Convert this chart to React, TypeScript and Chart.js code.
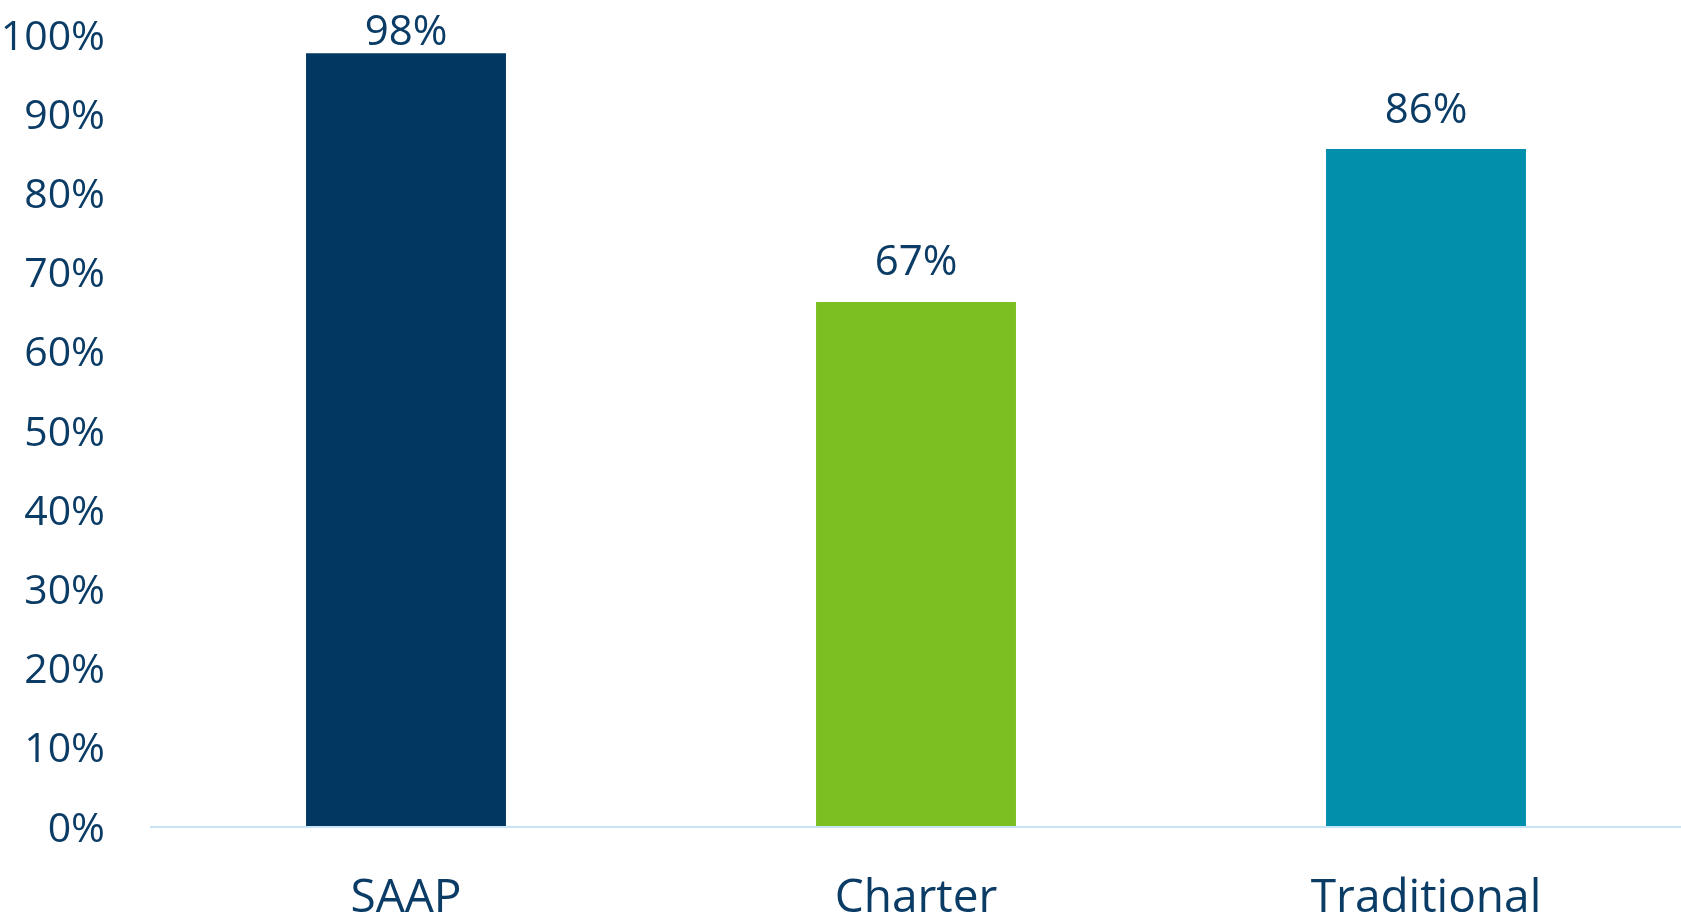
import React, { useEffect, useRef } from "react";
import { Chart, registerables } from "chart.js";

Chart.register(...registerables);

const categories = ["SAAP", "Charter", "Traditional"];
const values = [97.7, 66.3, 85.6];
const valueLabels = ["98%", "67%", "86%"];
const barColors = ["#023761", "#7BBF21", "#028FAB"];
const yTicks = [0, 10, 20, 30, 40, 50, 60, 70, 80, 90, 100];

const TEXT = "#0B3C66";
const FONT = "'Open Sans', sans-serif";

const valueLabelPlugin = {
  id: "valueLabels",
  afterDatasetsDraw(chart: any) {
    const ctx = chart.ctx;
    const meta = chart.getDatasetMeta(0);
    ctx.save();
    ctx.fillStyle = TEXT;
    ctx.font = `42px ${FONT}`;
    ctx.textAlign = "center";
    ctx.textBaseline = "alphabetic";
    meta.data.forEach((bar: any, i: number) => {
      const y = Math.max(bar.y - 26.5, 45);
      ctx.fillText(valueLabels[i], bar.x, y);
    });
    ctx.restore();
  },
};

export default function App() {
  const ref = useRef<HTMLCanvasElement | null>(null);
  useEffect(() => {
    if (!ref.current) return;
    const chart = new Chart(ref.current, {
      type: "bar",
      data: {
        labels: categories,
        datasets: [
          {
            data: values,
            backgroundColor: barColors,
            borderWidth: 0,
            categoryPercentage: 1,
            barPercentage: 0.392,
          },
        ],
      },
      options: {
        animation: false,
        responsive: true,
        maintainAspectRatio: false,
        layout: { padding: { top: 35, left: 0, right: 0, bottom: 0 } },
        plugins: {
          legend: { display: false },
          tooltip: { enabled: false },
          title: { display: false },
        },
        scales: {
          x: {
            grid: { display: false },
            border: { display: true, color: "#C7E4F8", width: 2, z: 1 },
            ticks: {
              color: TEXT,
              font: { family: FONT, size: 46 },
              padding: 36,
              maxRotation: 0,
            },
            afterFit(scale: any) {
              scale.height = 95;
              scale.paddingLeft = 0;
              scale.paddingRight = 0;
            },
          },
          y: {
            min: 0,
            max: 100,
            grid: { display: false },
            border: { display: false },
            afterBuildTicks(scale: any) {
              scale.ticks = yTicks.map((v) => ({ value: v }));
            },
            ticks: {
              color: TEXT,
              font: { family: FONT, size: 41 },
              padding: 38,
              labelOffset: 3,
              callback: (v: any) => `${v}%`,
            },
            afterFit(scale: any) {
              scale.width = 151;
              scale.paddingTop = 0;
              scale.paddingBottom = 0;
            },
          },
        },
      },
      plugins: [valueLabelPlugin],
    });
    return () => chart.destroy();
  }, []);

  return (
    <div style={{ position: "absolute", left: 0, top: 0, width: 1681, height: 922, background: "#fff" }}>
      <canvas ref={ref} />
    </div>
  );
}
